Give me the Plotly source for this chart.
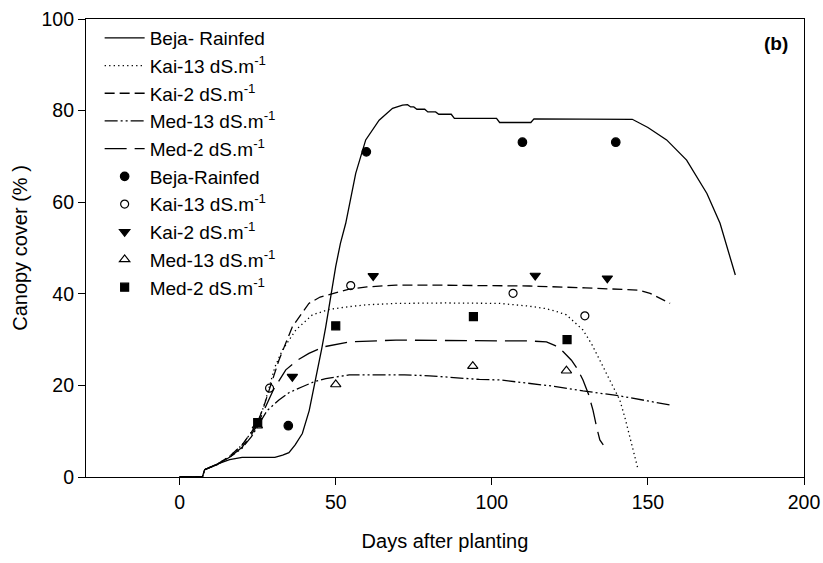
import plotly.graph_objects as go

# ---- simulated curves (lines) ----
beja_d = [0, 7.3, 8, 12, 16, 20, 24, 30.5, 33, 35, 37, 39.3, 41.5, 43.6, 45.5, 46.8, 48.9, 50, 51.5, 53.2, 56.4, 59.6, 63.9, 68.2, 71.4, 73, 74, 75, 76, 78.5, 79.5, 82, 83, 87, 88, 101.5, 102.5, 112.5, 113.5, 145, 150, 156, 162.4, 168.9, 173.1, 178]
beja_v = [0, 0, 1.6, 2.8, 3.8, 4.3, 4.3, 4.3, 4.8, 5.3, 7, 9.5, 14.5, 21.2, 28, 32.8, 41.5, 46, 51, 55.4, 66.3, 73.6, 77.9, 80.5, 81.2, 81.3, 80.8, 80.8, 80.3, 80.3, 79.7, 79.7, 79.2, 79.2, 78.3, 78.3, 77.4, 77.4, 78.2, 78.1, 76.3, 73.6, 69.2, 61.9, 55.4, 44.1]

kai13_d = [0, 7.3, 8, 12, 16, 20, 23, 25, 27, 28.6, 30.5, 32.9, 37.2, 42.5, 48, 54.3, 60, 69.3, 85, 102.5, 112, 117, 120, 123.9, 126.5, 129.2, 132, 134.6, 138, 141, 142.7, 144.2, 146, 146.9]
kai13_v = [0, 0, 1.6, 2.8, 4.5, 7, 9.8, 12, 15.5, 19.4, 24, 27.7, 32.1, 35.4, 36.6, 37.2, 37.6, 37.9, 38, 37.9, 37.3, 36.8, 36.3, 35.4, 33.8, 32.1, 29, 25.5, 21, 16.8, 12.8, 8.8, 4, 1.5]

kai2_d = [0, 7.3, 8, 12, 16, 20, 23, 25, 27, 29, 31.8, 36.1, 41.4, 45, 50, 54.3, 60, 69.3, 80, 100, 112, 130, 143.2, 147, 150.7, 154, 157.1]
kai2_v = [0, 0, 1.6, 2.8, 4.5, 7, 9.8, 12, 15.5, 19.5, 25.5, 32.8, 37.9, 39.3, 40.2, 41, 41.5, 41.9, 41.9, 41.8, 41.7, 41.3, 41, 40.8, 40.1, 39, 37.9]

med13_d = [0, 7.3, 8, 12, 16, 20, 23, 25.4, 28, 31.8, 35, 39.3, 43, 46.8, 54.3, 63.9, 72, 80, 96, 102.5, 112, 120, 129.2, 141, 150, 157.1]
med13_v = [0, 0, 1.6, 2.7, 4.3, 6.3, 8.8, 11.5, 14.5, 16.8, 18.4, 19.7, 20.8, 21.5, 22.3, 22.3, 22.3, 22.1, 21.3, 21.2, 20.5, 19.8, 18.8, 17.7, 16.6, 15.7]

med2_d = [0, 7.3, 8, 12, 16, 20, 23, 25, 27.5, 30, 34, 37.5, 41.4, 46, 54.3, 69.3, 85, 104.6, 112, 117.5, 120.3, 122.8, 125.5, 127.5, 129.2, 131, 132.4, 133.7, 134.6, 135.7]
med2_v = [0, 0, 1.6, 2.7, 4.3, 6.5, 9.3, 11.5, 15.3, 19, 23.4, 25.4, 27, 28.4, 29.5, 29.9, 29.8, 29.8, 29.7, 29.5, 28.7, 27.4, 25.5, 23.5, 21.2, 18, 14.6, 10.5, 8.1, 7]

# ---- observed values (markers) ----
obs_beja_d = [34.8, 59.8, 109.8, 139.7]
obs_beja_v = [11.2, 71, 73.1, 73.1]
obs_kai13_d = [28.8, 54.8, 106.8, 129.8]
obs_kai13_v = [19.4, 41.8, 40.1, 35.2]
obs_kai2_d = [36.1, 62, 113.9, 137]
obs_kai2_v = [21.9, 43.9, 44, 43.4]
obs_med13_d = [24.9, 50, 93.9, 123.9]
obs_med13_v = [11.2, 20.2, 24.2, 23.2]
obs_med2_d = [25, 50, 94.1, 124.1]
obs_med2_v = [11.9, 33, 35, 30]

x_ticks = [0, 50, 100, 150, 200]
y_ticks = [0, 20, 40, 60, 80, 100]

UNIT = " dS.m<sup>-1</sup>"
LW = 1.3
FONT = "Liberation Sans, Arial, sans-serif"

fig = go.Figure()

lines = [
    ("Beja- Rainfed", beja_d, beja_v, "solid"),
    ("Kai-13" + UNIT, kai13_d, kai13_v, "1.3px,3.2px"),
    ("Kai-2" + UNIT, kai2_d, kai2_v, "10px,5px"),
    ("Med-13" + UNIT, med13_d, med13_v, "13px,3px,2px,3px,2px,3px"),
    ("Med-2" + UNIT, med2_d, med2_v, "22px,8px"),
]
for name, xd, yd, dash in lines:
    fig.add_trace(go.Scatter(x=xd, y=yd, mode="lines", name=name,
                             line=dict(color="black", width=LW, dash=dash)))

markers = [
    ("Beja-Rainfed", obs_beja_d, obs_beja_v, "circle", 8.5),
    ("Kai-13" + UNIT, obs_kai13_d, obs_kai13_v, "circle-open", 8),
    ("Kai-2" + UNIT, obs_kai2_d, obs_kai2_v, "triangle-down", 9),
    ("Med-13" + UNIT, obs_med13_d, obs_med13_v, "triangle-up-open", 9),
    ("Med-2" + UNIT, obs_med2_d, obs_med2_v, "square", 8),
]
for name, xd, yd, sym, sz in markers:
    fig.add_trace(go.Scatter(x=xd, y=yd, mode="markers", name=name,
                             marker=dict(symbol=sym, size=sz, color="black",
                                         line=dict(color="black", width=1.2))))

axis_common = dict(showline=True, linecolor="black", linewidth=1.2, mirror=True,
                   ticks="outside", ticklen=7, tickwidth=1.2, tickcolor="black",
                   showgrid=False, zeroline=False, automargin=False,
                   tickfont=dict(family=FONT, size=19.5, color="black"))

fig.update_xaxes(range=[-30, 200], tickvals=x_ticks,
                 title=dict(text="Days after planting", font=dict(family=FONT, size=20, color="black"), standoff=22),
                 **axis_common)
fig.update_yaxes(range=[0, 100], tickvals=y_ticks,
                 title=dict(text="Canopy cover (% )", font=dict(family=FONT, size=20, color="black"), standoff=8),
                 **axis_common)

fig.add_annotation(text="<b>(b)</b>", xref="paper", yref="paper", x=0.961, y=0.946,
                   xanchor="center", yanchor="middle",
                   showarrow=False, font=dict(family=FONT, size=19, color="black"))

fig.update_layout(
    width=823, height=563,
    margin=dict(l=86, r=19, t=19, b=86),
    plot_bgcolor="white", paper_bgcolor="white",
    font=dict(family=FONT, color="black"),
    legend=dict(x=0.019, y=1.0, xanchor="left", yanchor="top",
                bgcolor="rgba(0,0,0,0)", font=dict(family=FONT, size=19, color="black"),
                tracegroupgap=0, itemwidth=40),
)

fig.write_html("out.html")
